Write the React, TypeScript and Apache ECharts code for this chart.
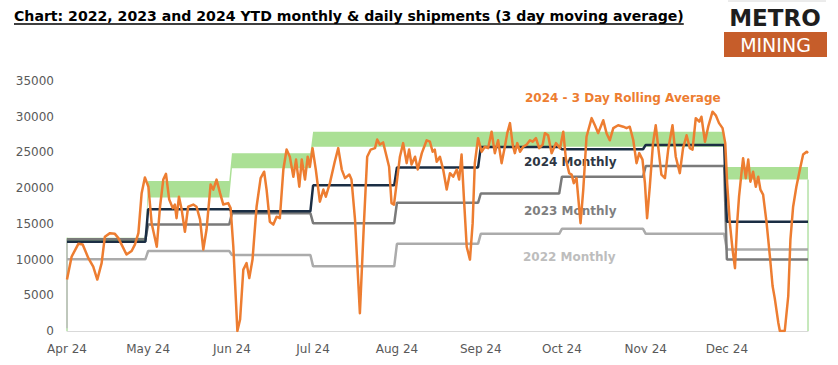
import React, { useEffect, useRef } from "react";
import * as echarts from "echarts";

// ---- Data ----
const monthLabels = ["Apr 24", "May 24", "Jun 24", "Jul 24", "Aug 24", "Sep 24", "Oct 24", "Nov 24", "Dec 24"];
const monthLengths = [30, 31, 30, 31, 31, 30, 31, 30, 31];

const monthly2024 = [12500, 17050, 16750, 20400, 22900, 25750, 25450, 26050, 15300];
const monthly2023 = [12850, 14900, 16500, 15100, 17950, 19250, 21600, 23100, 10000];
const monthly2022 = [10050, 11200, 10650, 9050, 12200, 13600, 14300, 13600, 11400];

const bandLow = [12600, 18700, 22800, 25800, 25800, 25800, 25800, 25800, 21200];
const bandHigh = [13050, 21000, 24900, 27900, 27900, 27900, 27900, 27900, 22950];

// [day since 1 Apr, tonnes] - 3 day rolling average
const rolling3Day: [number, number][] = [
  [0, 7200], [1.7, 10400], [4.2, 12200], [5.8, 12100], [7.9, 10200], [9.7, 9000], [11.2, 7200], [12.8, 9500],
  [14, 13200], [15.9, 13700], [17.7, 13600], [19, 13000], [20.2, 12100], [22, 10700], [23.9, 11200], [25.1, 12100],
  [26.4, 13700], [27.6, 19300], [28.8, 21500], [30.1, 20200], [31.3, 15100], [33.2, 11800], [34.4, 17400], [35.6, 21200],
  [36.6, 22000], [37.8, 18400], [39.1, 17200], [39.9, 17700], [40.5, 15800], [41.4, 18800], [42.4, 17000], [43.6, 13900],
  [44.8, 17400], [46.7, 17700], [47.9, 17400], [49.2, 15600], [50.4, 11400], [51.6, 14200], [53.1, 20500], [54.1, 19800],
  [55.3, 21200], [56.6, 19300], [57.8, 17700], [59.6, 17900], [60.5, 17200], [61.5, 11800], [63, 0], [64, 1600],
  [65.2, 8600], [66.4, 9500], [67.4, 7400], [68.6, 10000], [70.1, 17400], [71.6, 21400], [72.9, 22300], [73.8, 19800],
  [75, 15300], [76.3, 14900], [77.5, 16000], [78.7, 15800], [80, 22600], [81.2, 25400], [82.4, 24400], [83.7, 21600],
  [84.7, 24000], [85.9, 20200], [86.8, 24000], [88, 21200], [89, 24400], [89.8, 23000], [90.8, 25600], [92, 22600],
  [93.5, 18100], [94.8, 19800], [95.7, 18800], [97.2, 20700], [99, 23700], [100.3, 25600], [101.6, 22600], [102.8, 21400],
  [104.4, 21900], [105.2, 21200], [106.5, 15600], [108.3, 2500], [109.8, 15100], [111, 24400], [112.3, 25400], [113.9, 25600],
  [114.7, 26800], [115.7, 26100], [116.9, 26400], [118.2, 24400], [119.1, 23000], [120, 17900], [120.9, 17700], [121.9, 20700],
  [123.1, 24400], [124.3, 26300], [125.6, 23500], [126.5, 25400], [127.4, 23300], [128.7, 24400], [129.7, 22600], [131.2, 24900],
  [133, 26700], [134.2, 26500], [135.2, 25100], [136, 25400], [136.7, 23700], [137.9, 24400], [139.1, 22600], [140.4, 19800],
  [141.6, 22100], [142.8, 21600], [144.1, 22600], [145, 21200], [145.9, 24700], [146.8, 18400], [147.8, 11800], [149, 10000],
  [150, 15100], [150.8, 23500], [152, 27000], [153.3, 25100], [154.5, 25800], [155.7, 25600], [157, 27900], [158.2, 24900],
  [159.4, 26700], [160.7, 23500], [161.9, 25800], [162.8, 27700], [163.8, 29100], [164.8, 26100], [165.6, 24900], [166.5, 26300],
  [167.5, 25100], [168.7, 25800], [170, 26100], [171.2, 26700], [172.2, 26500], [173.4, 27000], [174.6, 25600], [175.9, 26100],
  [176.7, 27700], [177.9, 27400], [179.2, 24900], [180.8, 26300], [182.3, 25600], [183.5, 27900], [184.5, 24000], [185.7, 22100],
  [186.6, 21900], [187.4, 20700], [188.4, 21400], [189.9, 15100], [190.9, 19800], [192.1, 27200], [194, 29800], [195.2, 28800],
  [196.4, 27700], [198.3, 29500], [199.5, 27700], [200.7, 26700], [202, 28400], [203.8, 28800], [205.7, 28600], [206.9, 28400],
  [208.1, 28600], [209.4, 26700], [210.6, 23500], [211.6, 24900], [212.8, 24000], [213.7, 20700], [214.5, 15800], [215.5, 20200],
  [216.7, 26300], [217.7, 28800], [218.6, 25800], [219.8, 21900], [221.1, 21400], [222.3, 25400], [223.9, 28800], [225.1, 24400],
  [226.6, 22100], [227.8, 25600], [229.1, 27400], [230.3, 25600], [231.3, 25400], [232.5, 29800], [233.8, 29300], [234.6, 30000],
  [235.9, 26500], [237.1, 28600], [238.7, 30700], [239.9, 30200], [241.1, 29100], [242.4, 28400], [243.4, 26300], [244.1, 20700],
  [245.1, 15100], [246.1, 11400], [247, 8800], [247.8, 15100], [248.5, 18800], [249.4, 22100], [250, 24200], [251, 21400],
  [251.9, 24000], [252.7, 20900], [253.7, 22300], [254.7, 20200], [255.6, 21600], [256.4, 19800], [257.4, 19100], [258.7, 15100],
  [259.9, 10500], [260.9, 6300], [261.7, 4600], [263, 1200], [263.6, 0], [265.4, 0], [266.7, 4900], [267.5, 12800],
  [268.5, 17400], [269.7, 20200], [271, 22600], [272.2, 24700], [273.5, 25100], [274, 24900],
];

const titleText = "Chart: 2022, 2023 and 2024 YTD monthly & daily shipments (3 day moving average)";
const FONT = "'DejaVu Sans', sans-serif";

// ---- Helpers ----
const monthStarts: number[] = [];
monthLengths.reduce((acc, len) => {
  monthStarts.push(acc);
  return acc + len;
}, 0);
const lastDay = monthLengths.reduce((a, b) => a + b, 0) - 1;

function stepPoints(vals: number[]): [number, number][] {
  const pts: [number, number][] = [];
  vals.forEach((v, i) => {
    const end = i < vals.length - 1 ? monthStarts[i + 1] - 1 : lastDay;
    pts.push([monthStarts[i], v]);
    pts.push([end, v]);
  });
  return pts;
}

function measure(text: string, font: string): number {
  const c = document.createElement("canvas").getContext("2d");
  if (!c) return text.length * 8;
  c.font = font;
  return c.measureText(text).width;
}

export default function App() {
  const ref = useRef<HTMLDivElement>(null);

  useEffect(() => {
    if (!ref.current) return;
    const chart = echarts.init(ref.current, undefined, { renderer: "svg" });

    const titleTarget = 669;
    const baseW = measure(titleText, `bold 13px DejaVu Sans`);
    const titleSize = Math.round(((13 * titleTarget) / baseW) * 10) / 10;
    const titleW = measure(titleText, `bold ${titleSize}px DejaVu Sans`);

    const bandTopPts = stepPoints(bandHigh);
    const bandBottomPts = stepPoints(bandLow).reverse();

    const lineBase = {
      type: "line" as const,
      symbol: "none",
      silent: true,
      smooth: false,
    };

    chart.setOption({
      animation: false,
      backgroundColor: "#ffffff",
      grid: { left: 67, right: 30, top: 81, bottom: 34 },
      xAxis: {
        type: "value",
        min: 0,
        max: lastDay,
        splitLine: { show: false },
        axisTick: { show: false },
        axisLine: { show: true, lineStyle: { color: "#D9D9D9", width: 1 } },
        axisLabel: {
          customValues: monthStarts,
          formatter: (v: number) => {
            const i = monthStarts.indexOf(Math.round(v));
            return i >= 0 ? monthLabels[i] : "";
          },
          color: "#595959",
          fontSize: 12,
          fontFamily: FONT,
          margin: 12,
        },
      },
      yAxis: {
        type: "value",
        min: 0,
        max: 35000,
        interval: 5000,
        splitLine: { show: false },
        axisLine: { show: false },
        axisTick: { show: false },
        axisLabel: {
          color: "#595959",
          fontSize: 12,
          fontFamily: FONT,
          margin: 13,
          formatter: (v: number) => String(v),
        },
      },
      series: [
        {
          type: "custom",
          name: "band",
          silent: true,
          data: [0],
          renderItem: (_params: any, api: any) => {
            const pts = [...bandTopPts, ...bandBottomPts].map((p) => api.coord(p));
            return {
              type: "polygon",
              shape: { points: pts },
              style: { fill: "#ABE095", stroke: "none" },
            };
          },
        },
        {
          ...lineBase,
          name: "edgeLeft",
          data: [[0, 0], [0, bandHigh[0]]],
          lineStyle: { color: "#8ED27A", width: 1 },
        },
        {
          ...lineBase,
          name: "edgeLeftGrey",
          data: [[0, 400], [0, monthly2023[0]]],
          lineStyle: { color: "#BDBDBD", width: 1.5 },
        },
        {
          ...lineBase,
          name: "edgeRight",
          data: [[lastDay, 0], [lastDay, bandLow[bandLow.length - 1]]],
          lineStyle: { color: "#8ED27A", width: 1 },
        },
        {
          ...lineBase,
          name: "2022 Monthly",
          data: stepPoints(monthly2022),
          lineStyle: { color: "#ABABAB", width: 2.5 },
        },
        {
          ...lineBase,
          name: "2023 Monthly",
          data: stepPoints(monthly2023),
          lineStyle: { color: "#7A7A7A", width: 2.5 },
        },
        {
          ...lineBase,
          name: "2024 Monthly",
          data: stepPoints(monthly2024),
          lineStyle: { color: "#1B2E44", width: 2.5 },
        },
        {
          ...lineBase,
          name: "2024 - 3 Day Rolling Average",
          data: rolling3Day,
          lineStyle: { color: "#ED7D31", width: 2.5, join: "round" },
        },
      ],
      graphic: [
        {
          type: "text",
          left: 14,
          top: 9,
          style: {
            text: titleText,
            fill: "#000000",
            font: `bold ${titleSize}px DejaVu Sans`,
          },
        },
        {
          type: "line",
          shape: { x1: 14, y1: 24, x2: 14 + titleW, y2: 24 },
          style: { stroke: "#000000", lineWidth: 1.3 },
        },
        {
          type: "line",
          shape: { x1: 728, y1: 1, x2: 826, y2: 1 },
          style: { stroke: "#D8D8D8", lineWidth: 1 },
        },
        {
          type: "text",
          x: 775,
          y: 18,
          style: {
            text: "METRO",
            fill: "#1E1E1E",
            font: `bold 23px DejaVu Sans`,
            textAlign: "center",
            textVerticalAlign: "middle",
          },
        },
        {
          type: "rect",
          shape: { x: 724, y: 32, width: 103, height: 25 },
          style: { fill: "#C65D2A" },
        },
        {
          type: "text",
          x: 775.5,
          y: 45,
          style: {
            text: "MINING",
            fill: "#FFFFFF",
            font: `19px DejaVu Sans`,
            textAlign: "center",
            textVerticalAlign: "middle",
          },
        },
        {
          type: "text",
          x: 525,
          y: 98,
          style: {
            text: "2024 - 3 Day Rolling Average",
            fill: "#ED7D31",
            font: `bold 12px DejaVu Sans`,
            textVerticalAlign: "middle",
          },
        },
        {
          type: "text",
          x: 524,
          y: 162,
          style: {
            text: "2024 Monthly",
            fill: "#2E3744",
            font: `bold 12px DejaVu Sans`,
            textVerticalAlign: "middle",
          },
        },
        {
          type: "text",
          x: 524,
          y: 211,
          style: {
            text: "2023 Monthly",
            fill: "#7F7F7F",
            font: `bold 12px DejaVu Sans`,
            textVerticalAlign: "middle",
          },
        },
        {
          type: "text",
          x: 523,
          y: 257,
          style: {
            text: "2022 Monthly",
            fill: "#BDBDBD",
            font: `bold 12px DejaVu Sans`,
            textVerticalAlign: "middle",
          },
        },
      ],
    });

    return () => chart.dispose();
  }, []);

  return (
    <div
      ref={ref}
      style={{ position: "fixed", left: 0, top: 0, width: 838, height: 365, background: "#fff" }}
    />
  );
}
